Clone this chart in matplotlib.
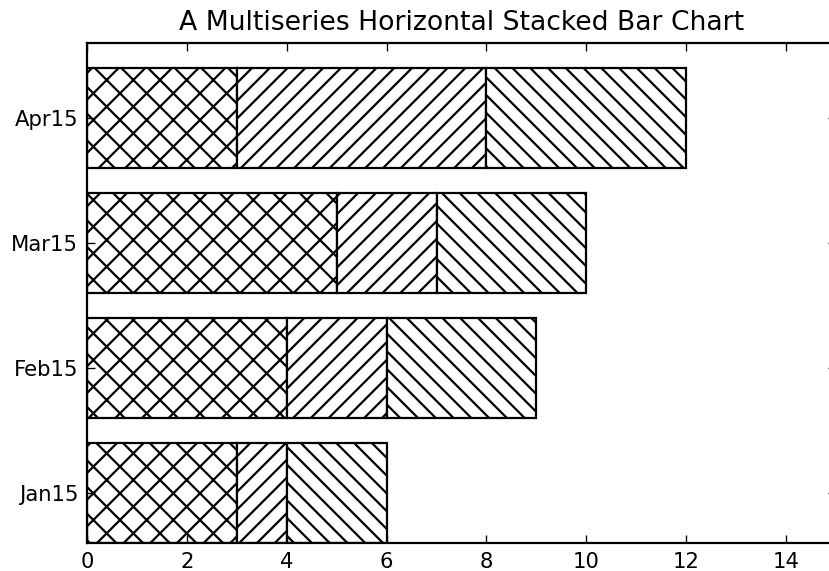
import matplotlib
matplotlib.use("Agg")
import matplotlib.pyplot as plt
import numpy as np

months = ["Jan15", "Feb15", "Mar15", "Apr15"]
series_a = [3, 4, 5, 3]
series_b = [1, 2, 2, 5]
series_c = [2, 3, 3, 4]
hatches = ["xx", "///", "\\\\\\"]

DPI = 160
fig = plt.figure(figsize=(829 / DPI, 571 / DPI), dpi=DPI)
fig.patch.set_facecolor("white")
ax = fig.add_axes([87 / 829, (571 - 543) / 571, (836 - 87) / 829, 500 / 571])

y = np.arange(len(months))
h = 0.8
left = np.zeros(len(months))
for vals, hatch in zip([series_a, series_b, series_c], hatches):
    ax.barh(y, vals, height=h, left=left, align="edge", color="white",
            edgecolor="black", linewidth=1.0, hatch=hatch)
    left = left + np.array(vals)

ax.set_xlim(0, 15)
ax.set_ylim(0, 4)
ax.set_xticks(np.arange(0, 15, 2))
ax.set_yticks(y + h / 2)
ax.set_yticklabels(months)
ax.tick_params(direction="in", top=True, right=True, length=3.5, width=0.6,
               labelsize=9.5, pad=4)
for s in ax.spines.values():
    s.set_linewidth(1.0)
ax.set_title("A Multiseries Horizontal Stacked Bar Chart", fontsize=12, pad=6)

fig.savefig("out.png", dpi=DPI, facecolor="white")
